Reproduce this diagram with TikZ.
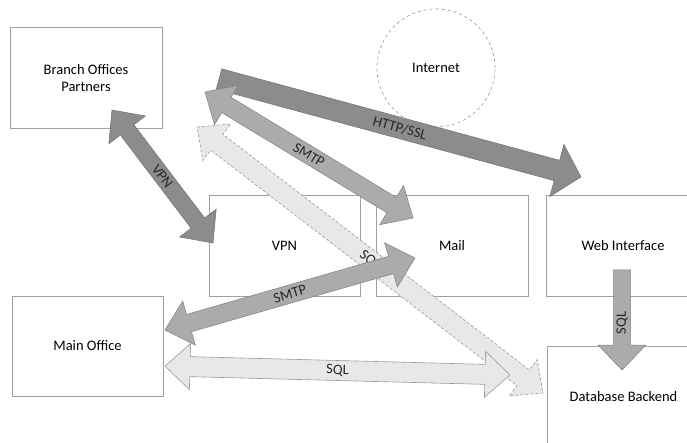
\documentclass[tikz,border=0pt]{standalone}
\usepackage{fontspec}
\setmainfont{Carlito}
\usetikzlibrary{calc}

\definecolor{boxline}{HTML}{A0A0A0}
\definecolor{darkarrow}{HTML}{8C8C8C}
\definecolor{midarrow}{HTML}{ABABAB}
\definecolor{lightarrow}{HTML}{E8E8E8}

% length of every arrow head
\newcommand{\hdlen}{25pt}
% block arrow with two heads: style, from, to, half shaft, half head
\newcommand{\twoway}[5]{%
  \coordinate (t1) at ($(#2)!\hdlen!(#3)$);
  \coordinate (t2) at ($(#3)!\hdlen!(#2)$);
  \path[#1] (#2) -- ($(t1)!#5!90:(#3)$) -- ($(t1)!#4!90:(#3)$)
    -- ($(t2)!#4!-90:(#2)$) -- ($(t2)!#5!-90:(#2)$) -- (#3)
    -- ($(t2)!#5!90:(#2)$) -- ($(t2)!#4!90:(#2)$)
    -- ($(t1)!#4!-90:(#3)$) -- ($(t1)!#5!-90:(#3)$) -- cycle;}
% block arrow with one head at the second point
\newcommand{\oneway}[5]{%
  \coordinate (t2) at ($(#3)!\hdlen!(#2)$);
  \path[#1] ($(#2)!#4!90:(#3)$)
    -- ($(t2)!#4!-90:(#2)$) -- ($(t2)!#5!-90:(#2)$) -- (#3)
    -- ($(t2)!#5!90:(#2)$) -- ($(t2)!#4!90:(#2)$)
    -- ($(#2)!#4!-90:(#3)$) -- cycle;}

\tikzset{
  box/.style={draw=boxline, line width=0.7pt, fill=white, align=center,
    minimum width=152pt, minimum height=101pt, inner sep=2pt},
  cloud/.style={draw=boxline, dashed, line width=0.7pt, circle,
    minimum size=118pt},
  darkblk/.style={fill=darkarrow, draw=darkarrow!80!black, line width=0.5pt},
  midblk/.style={fill=midarrow, draw=midarrow!75!black, line width=0.5pt},
  lightblk/.style={fill=lightarrow, draw=gray!80, line width=0.6pt},
  lbl/.style={sloped, pos=0.5, inner sep=0pt, text=black!85}
}

\begin{document}
\begin{tikzpicture}[x=1pt, y=-1pt, font=\fontsize{14.5}{17}\selectfont]
  \useasboundingbox (0,0) rectangle (687,443);
  \clip (0,0) rectangle (687,443);

  % boxes
  \node[box] (branch) at (86,78) {Branch Offices\\Partners};
  \node[cloud] (internet) at (436,68) {Internet};
  \node[box, minimum width=151pt] (vpn) at (284.5,246) {VPN};
  \node[box] (mail) at (452,246) {Mail};
  \node[box, minimum width=154pt] (web) at (623,246) {Web Interface};
  \node[box, minimum width=151pt, minimum height=100pt] (main) at (87.5,346) {Main Office};
  \node[box, minimum width=153pt, minimum height=102pt] (db) at (623.5,397) {Database Backend};

  % arrow ends
  \coordinate (httpA) at (219,79);
  \coordinate (httpB) at (581,177);
  \coordinate (vpnA) at (112,110);
  \coordinate (vpnB) at (213,243);
  \coordinate (smtpA) at (205,92);
  \coordinate (smtpB) at (413,218);
  \coordinate (sqlA) at (197,127);
  \coordinate (sqlB) at (543,393);
  \coordinate (dbA) at (165,366);
  \coordinate (dbB) at (510,375);
  \coordinate (mailA) at (165,330);
  \coordinate (mailB) at (415,258);
  \coordinate (webA) at (622,270);
  \coordinate (webB) at (622,370);

  % arrows
  \oneway{darkblk}{httpA}{httpB}{10.5pt}{27pt}
  \path (httpA) -- (httpB) node[lbl] {HTTP/SSL};
  \twoway{darkblk}{vpnA}{vpnB}{8.5pt}{23pt}
  \path (vpnA) -- (vpnB) node[lbl] {VPN};
  \twoway{midblk}{smtpA}{smtpB}{9pt}{23pt}
  \path (smtpA) -- (smtpB) node[lbl] {SMTP};
  \twoway{lightblk, densely dashed}{sqlA}{sqlB}{10pt}{23pt}
  \path (sqlA) -- (sqlB) node[lbl] {SQL};
  \twoway{lightblk}{dbA}{dbB}{10pt}{23pt}
  \path (dbA) -- (dbB) node[lbl] {SQL};
  \twoway{midblk}{mailA}{mailB}{9pt}{23pt}
  \path (mailA) -- (mailB) node[lbl] {SMTP};
  \oneway{midblk}{webA}{webB}{8.5pt}{24pt}
  \path (webA) -- (webB) node[pos=0.53, rotate=90, inner sep=0pt, text=black!85] {SQL};
\end{tikzpicture}
\end{document}
